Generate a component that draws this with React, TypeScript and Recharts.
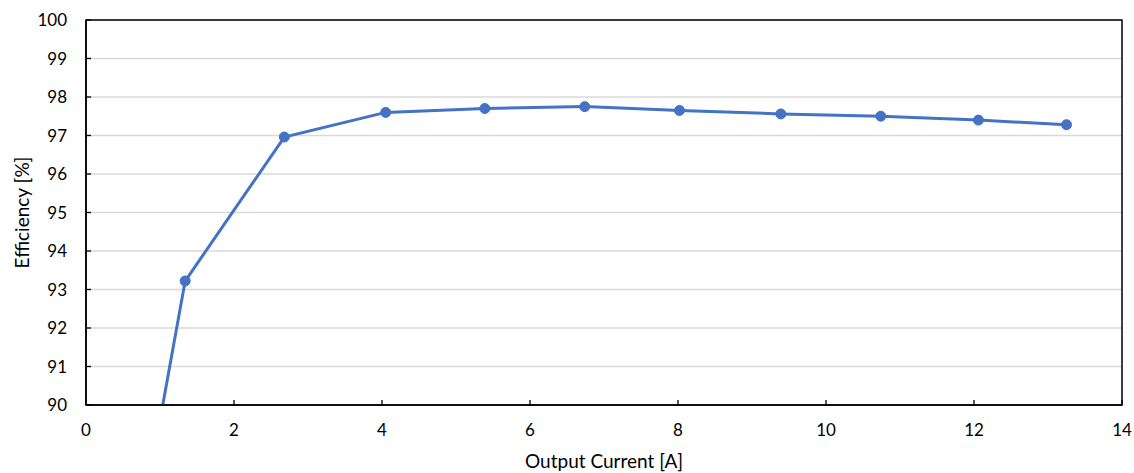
import React from "react";
import {
  LineChart,
  Line,
  XAxis,
  YAxis,
  CartesianGrid,
  ReferenceArea,
} from "recharts";

// Output current [A] and efficiency [%]
const currents = [0.68, 1.34, 2.68, 4.05, 5.39, 6.74, 8.02, 9.39, 10.74, 12.06, 13.25];
const efficiency = [86.2, 93.22, 96.96, 97.6, 97.7, 97.75, 97.65, 97.56, 97.5, 97.4, 97.28];

const xTicks = [0, 2, 4, 6, 8, 10, 12, 14];
const yTicks = [90, 91, 92, 93, 94, 95, 96, 97, 98, 99, 100];

const data = currents.map((c, i) => ({ current: c, eff: efficiency[i] }));

const FONT = "Lato, 'Open Sans', sans-serif";
const LINE = "#4472C4";

// ticks point into the plot, like the original
const XTick = (props: any) => {
  const { x, y, payload } = props;
  const axisY = y - 19;
  return (
    <g>
      <line x1={x} y1={axisY} x2={x} y2={axisY - 5} stroke="#000" strokeWidth={1.3} />
      <text x={x} y={y} dy="0.71em" textAnchor="middle" fill="#000" fontSize={17} fontFamily={FONT}>
        {payload.value}
      </text>
    </g>
  );
};

const YTick = (props: any) => {
  const { x, y, payload } = props;
  const axisX = x + 19;
  return (
    <g>
      <line x1={axisX} y1={y} x2={axisX + 5} y2={y} stroke="#000" strokeWidth={1.3} />
      <text x={x} y={y} dy="0.355em" textAnchor="end" fill="#000" fontSize={17} fontFamily={FONT}>
        {payload.value}
      </text>
    </g>
  );
};

export default function App() {
  return (
    <div style={{ position: "absolute", left: 0, top: 0, background: "#fff" }}>
      <LineChart
        width={1134}
        height={473}
        data={data}
        margin={{ top: 20, right: 12, bottom: 0, left: 0 }}
      >
        <CartesianGrid stroke="#d9d9d9" strokeWidth={1.3} vertical={false} />
        <XAxis
          type="number"
          dataKey="current"
          domain={[0, 14]}
          ticks={xTicks}
          allowDataOverflow
          height={68}
          tickSize={0}
          tickMargin={19}
          tickLine={false}
          tick={<XTick />}
          axisLine={{ stroke: "#000", strokeWidth: 1.5 }}
          label={{
            value: "Output Current [A]",
            position: "bottom",
            offset: -18,
            fill: "#000",
            fontSize: 19,
            fontFamily: FONT,
          }}
        />
        <YAxis
          type="number"
          domain={[90, 100]}
          ticks={yTicks}
          allowDataOverflow
          width={86}
          tickSize={0}
          tickMargin={19}
          tickLine={false}
          tick={<YTick />}
          axisLine={{ stroke: "#000", strokeWidth: 1.5 }}
          label={{
            value: "Efficiency [%]",
            angle: -90,
            position: "insideLeft",
            offset: 22,
            style: { textAnchor: "middle" },
            fill: "#000",
            fontSize: 19,
            fontFamily: FONT,
          }}
        />
        <ReferenceArea
          x1={0}
          x2={14}
          y1={90}
          y2={100}
          fill="none"
          stroke="#000"
          strokeWidth={1.5}
          ifOverflow="visible"
        />
        <Line
          type="linear"
          dataKey="eff"
          stroke={LINE}
          strokeWidth={3}
          dot={{ r: 5, fill: LINE, stroke: LINE, strokeWidth: 1 }}
          isAnimationActive={false}
        />
      </LineChart>
    </div>
  );
}
